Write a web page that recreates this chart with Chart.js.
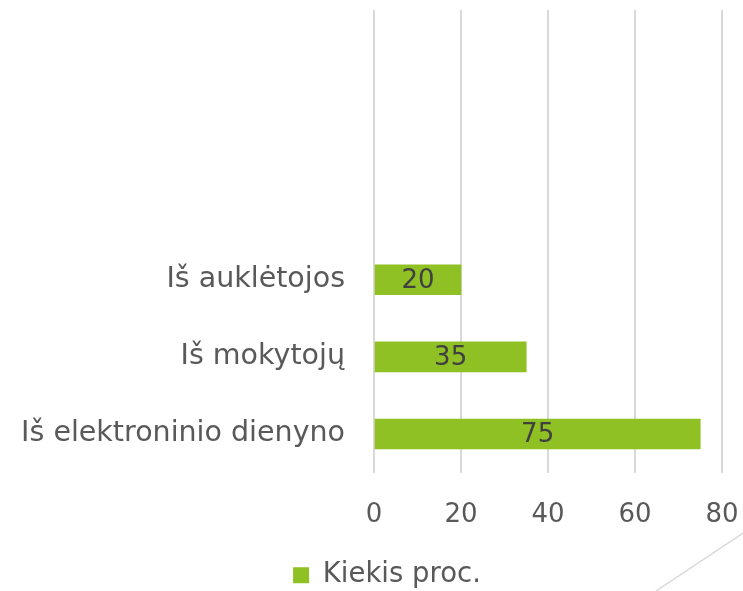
<!DOCTYPE html>
<html>
<head>
<meta charset="utf-8">
<script src="https://cdn.jsdelivr.net/npm/chart.js@4"></script>
<style>
  html, body { margin: 0; padding: 0; background: #fff; overflow: hidden; }
  #wrap { position: relative; width: 743px; height: 591px; }
  #deco { position: absolute; left: 0; top: 0; pointer-events: none; }
</style>
</head>
<body>
<div id="wrap">
  <canvas id="chart" width="743" height="591"></canvas>
  <svg id="deco" width="743" height="591"><line x1="656" y1="591" x2="743" y2="533" stroke="#d9d9d9" stroke-width="1.5"/></svg>
</div>
<script>
// top three slots are empty in the original chart
const categories = ['', '', '', 'Iš auklėtojos', 'Iš mokytojų', 'Iš elektroninio dienyno'];
const kiekis = [null, null, null, 20, 35, 75];
const seriesName = 'Kiekis proc.';
const xTicks = [0, 20, 40, 60, 80];

const FONT = "'DejaVu Sans', sans-serif";

// values written in the middle of each bar
const barLabels = {
    id: 'barLabels',
    afterDatasetsDraw(chart){
        const ctx = chart.ctx;
        const meta = chart.getDatasetMeta(0);
        ctx.save();
        ctx.font = '26px ' + FONT;
        ctx.fillStyle = '#404040';
        ctx.textAlign = 'center';
        ctx.textBaseline = 'middle';
        meta.data.forEach((bar, i) => {
            if(kiekis[i] == null) return;
            ctx.fillText(kiekis[i], (bar.x + bar.base) / 2, bar.y + 1);
        });
        ctx.restore();
    }
};

// legend sits a bit right of the canvas centre in the original
const legendShift = {
    id: 'legendShift',
    afterLayout(chart){
        chart.legend.left += 26;
        chart.legend.right += 26;
    }
};

const ctx = document.getElementById('chart').getContext('2d');
new Chart(ctx, {
    type: 'bar',
    data: {
        labels: categories,
        datasets: [{
            label: seriesName,
            data: kiekis,
            backgroundColor: '#8fc024',
            barThickness: 30
        }]
    },
    options: {
        indexAxis: 'y',
        responsive: false,
        animation: false,
        layout: { padding: { top: 10, right: 21, left: 0, bottom: -8 } },
        scales: {
            x: {
                min: 0, max: 80,
                afterBuildTicks: axis => { axis.ticks = xTicks.map(v => ({ value: v })); },
                afterFit: axis => { axis.paddingLeft = 0; axis.paddingRight = 0; axis.height = 79; },
                grid: { color: '#d9d9d9', lineWidth: 2, drawTicks: false },
                border: { display: false },
                ticks: { color: '#595959', font: { family: FONT, size: 26 }, padding: 27 }
            },
            y: {
                afterFit: axis => { axis.paddingTop = 0; axis.paddingBottom = 0; axis.width = 374; },
                grid: { display: false, drawTicks: false },
                border: { display: false },
                ticks: { color: '#595959', font: { family: FONT, size: 28.5 }, padding: 29 }
            }
        },
        plugins: {
            legend: {
                position: 'bottom',
                labels: { color: '#595959', font: { family: FONT, size: 27.5 }, boxWidth: 16, boxHeight: 16, padding: 10 }
            },
            tooltip: { enabled: false }
        }
    },
    plugins: [barLabels, legendShift]
});
</script>
</body>
</html>
